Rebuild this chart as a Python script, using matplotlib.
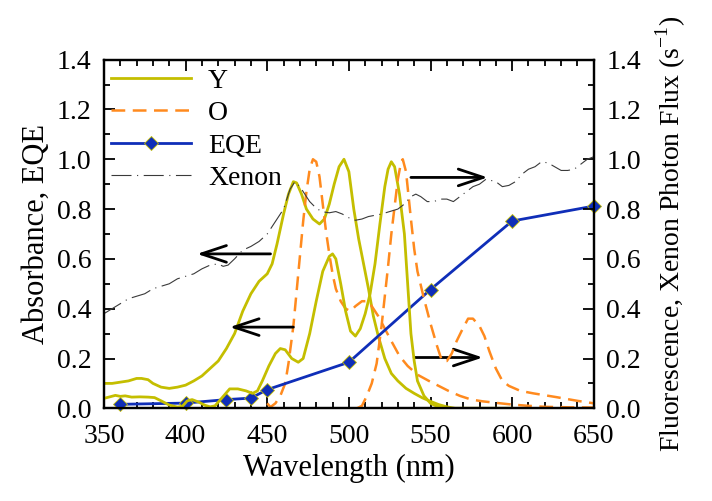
import matplotlib
matplotlib.use("Agg")
import matplotlib.pyplot as plt
from matplotlib.lines import Line2D
from matplotlib.ticker import MultipleLocator

plt.rcParams['font.family'] = ['Liberation Serif', 'DejaVu Serif']
plt.rcParams['mathtext.fontset'] = 'custom'
plt.rcParams['mathtext.rm'] = 'Liberation Serif'

# Y absorbance (left axis)
y_abs_wl = [350, 355, 360, 365, 370, 373, 377, 380, 385, 390, 395, 400, 405, 410, 415, 420,
            425, 430, 435, 440, 445, 450, 453, 456, 460, 463, 466, 468, 471, 474, 478, 482,
            485, 488, 491, 494, 497, 500, 503, 506, 509, 512, 515, 518, 522, 526, 530, 535,
            540, 545, 550, 555, 560, 565, 600]
y_abs = [0.10, 0.10, 0.105, 0.11, 0.12, 0.12, 0.115, 0.10, 0.085, 0.08, 0.085, 0.093, 0.11,
         0.13, 0.16, 0.19, 0.24, 0.30, 0.39, 0.46, 0.51, 0.54, 0.58, 0.66, 0.78, 0.86, 0.91,
         0.905, 0.86, 0.80, 0.76, 0.74, 0.76, 0.82, 0.90, 0.97, 1.00, 0.95, 0.80, 0.68, 0.58,
         0.48, 0.37, 0.29, 0.20, 0.14, 0.11, 0.08, 0.06, 0.042, 0.028, 0.015, 0.006, 0.0, 0.0]

# Y fluorescence (right axis)
y_fl_wl = [350, 353, 357, 360, 363, 367, 372, 377, 381, 385, 390, 395, 398, 401, 404, 408,
           412, 415, 418, 422, 427, 432, 437, 441, 444, 447, 451, 455, 458, 461, 465, 469,
           472, 476, 480, 484, 488, 490, 492, 495, 498, 501, 504, 507, 510, 513, 516, 519,
           522, 524, 526, 528, 531, 534, 536, 538, 540, 542, 546, 550, 555, 560, 600]
y_fl = [0.04, 0.045, 0.052, 0.048, 0.05, 0.045, 0.046, 0.045, 0.043, 0.03, 0.013, 0.005,
        0.008, 0.03, 0.035, 0.025, 0.012, 0.006, 0.01, 0.04, 0.078, 0.078, 0.07, 0.06, 0.07,
        0.11, 0.17, 0.22, 0.24, 0.235, 0.20, 0.185, 0.20, 0.30, 0.43, 0.55, 0.61, 0.62, 0.60,
        0.50, 0.39, 0.31, 0.29, 0.32, 0.38, 0.46, 0.58, 0.74, 0.89, 0.96, 0.99, 0.97, 0.86,
        0.70, 0.50, 0.30, 0.19, 0.11, 0.05, 0.02, 0.005, 0.0, 0.0]

# O absorbance (left axis)
o_abs_wl = [450, 452, 455, 458, 461, 463, 466, 468, 470, 472, 474, 476, 478, 480, 482, 484,
            486, 488, 490, 492, 495, 498, 501, 504, 508, 512, 515, 518, 522, 526, 531, 536,
            542, 549, 555, 561, 568, 575, 582, 590, 600, 610, 620, 635, 650]
o_abs = [0.02, 0.005, 0.02, 0.05, 0.10, 0.18, 0.33, 0.47, 0.61, 0.75, 0.87, 0.96, 1.00, 0.99,
         0.93, 0.82, 0.71, 0.62, 0.54, 0.48, 0.43, 0.40, 0.39, 0.41, 0.43, 0.43, 0.40, 0.37,
         0.32, 0.27, 0.21, 0.17, 0.135, 0.11, 0.09, 0.07, 0.05, 0.035, 0.028, 0.022, 0.015,
         0.01, 0.006, 0.004, 0.003]

# O fluorescence (right axis)
o_fl_wl = [505, 508, 511, 514, 517, 520, 522, 524, 526, 528, 530, 532, 533, 535, 538, 540,
           542, 546, 550, 554, 557, 560, 563, 566, 569, 573, 576, 580, 583, 586, 590, 594,
           598, 605, 613, 627, 640, 650]
o_fl = [0.0, 0.01, 0.05, 0.10, 0.18, 0.33, 0.45, 0.57, 0.70, 0.81, 0.92, 0.99, 1.00, 0.95,
        0.76, 0.64, 0.55, 0.44, 0.34, 0.25, 0.19, 0.19, 0.22, 0.27, 0.31, 0.36, 0.36, 0.33,
        0.29, 0.23, 0.16, 0.11, 0.09, 0.07, 0.06, 0.045, 0.03, 0.02]

# Xenon photon flux (right axis)
xe_wl = [350, 355, 360, 365, 370, 375, 380, 385, 390, 395, 400, 405, 410, 415, 420, 423, 426,
         430, 435, 440, 445, 450, 455, 460, 464, 467, 470, 473, 476, 479, 483, 488, 492, 496,
         500, 504, 508, 512, 516, 520, 525, 530, 534, 538, 541, 544, 548, 552, 556, 560, 564,
         568, 572, 576, 580, 584, 587, 590, 594, 598, 602, 606, 610, 614, 618, 622, 626, 630,
         634, 638, 642, 646, 650]
xe = [0.38, 0.40, 0.42, 0.44, 0.45, 0.46, 0.48, 0.49, 0.50, 0.52, 0.53, 0.54, 0.56, 0.575,
      0.58, 0.57, 0.575, 0.60, 0.635, 0.65, 0.67, 0.70, 0.75, 0.80, 0.88, 0.91, 0.89, 0.86,
      0.83, 0.81, 0.79, 0.785, 0.79, 0.78, 0.765, 0.755, 0.76, 0.77, 0.775, 0.78, 0.79, 0.80,
      0.82, 0.85, 0.86, 0.85, 0.83, 0.83, 0.84, 0.84, 0.83, 0.85, 0.87, 0.89, 0.90, 0.92,
      0.915, 0.91, 0.89, 0.895, 0.91, 0.94, 0.96, 0.97, 0.99, 0.985, 0.97, 0.955, 0.955, 0.96,
      0.98, 1.00, 1.01]

# EQE (left axis)
eqe_wl = [360, 400, 425, 440, 450, 500, 550, 600, 650]
eqe = [0.016, 0.021, 0.035, 0.041, 0.075, 0.185, 0.477, 0.752, 0.812]

yellow = '#C4BE00'
orange = '#FF8A1E'
blue = '#0F2EB8'
grey = '#3A3A3A'

fig = plt.figure(figsize=(7.12, 5.01), dpi=100)
ax = fig.add_axes([0.146, 0.185, 0.688, 0.696])
ax2 = ax.twinx()

ax.plot(y_abs_wl, y_abs, color=yellow, lw=2)
ax.plot(o_abs_wl, o_abs, color=orange, lw=1.8, linestyle=(0, (5.5, 3)))
ax.plot(eqe_wl, eqe, color=blue, lw=2, marker='D', ms=7, mfc=blue,
        mec=yellow, mew=0.6, clip_on=False, zorder=5)

ax2.plot(y_fl_wl, y_fl, color=yellow, lw=2)
ax2.plot(o_fl_wl, o_fl, color=orange, lw=1.8, linestyle=(0, (5.5, 3)))
ax2.plot(xe_wl, xe, color=grey, lw=0.8, linestyle=(0, (18, 5, 1, 5)))

for a in (ax, ax2):
    a.set_xlim(350, 650)
    a.set_ylim(0, 1.4)
    a.yaxis.set_major_locator(MultipleLocator(0.2))
    a.yaxis.set_minor_locator(MultipleLocator(0.1))
    a.tick_params(which='both', direction='in', labelsize=20, width=1.3)
    a.tick_params(which='major', length=8)
    a.tick_params(which='minor', length=4)
    a.tick_params(axis='y', pad=9)
    for s in a.spines.values():
        s.set_linewidth(1.6)

ax.xaxis.set_major_locator(MultipleLocator(50))
ax.xaxis.set_minor_locator(MultipleLocator(10))
ax.tick_params(which='both', top=True, right=False)
ax.tick_params(axis='x', pad=11)
ax.yaxis.set_major_formatter(plt.FormatStrFormatter('%.1f'))
ax2.yaxis.set_major_formatter(plt.FormatStrFormatter('%.1f'))

ax.set_xlabel('Wavelength (nm)', fontsize=22, labelpad=4)
ax.set_ylabel('Absorbance, EQE', fontsize=22, labelpad=4)
ax2.set_ylabel('Fluorescence, Xenon Photon Flux (s$^{-1}$)', fontsize=20, labelpad=9)

# arrows pointing to the axis each curve belongs to
arrow_kw = dict(arrowstyle='->, head_length=0.9, head_width=0.3', color='black', lw=2,
                mutation_scale=20, shrinkA=0, shrinkB=0)
ax.annotate('', xy=(407, 0.62), xytext=(452, 0.62), arrowprops=arrow_kw)
ax.annotate('', xy=(427, 0.326), xytext=(466, 0.326), arrowprops=arrow_kw)
ax.annotate('', xy=(585, 0.927), xytext=(538, 0.927), arrowprops=arrow_kw)
ax.annotate('', xy=(582, 0.204), xytext=(540, 0.204), arrowprops=arrow_kw)

handles = [
    Line2D([], [], color=yellow, lw=2),
    Line2D([], [], color=orange, lw=1.8, linestyle=(0, (5.5, 3))),
    Line2D([], [], color=blue, lw=2, marker='D', ms=7, mfc=blue, mec=yellow, mew=0.6),
    Line2D([], [], color=grey, lw=0.8, linestyle=(0, (18, 5, 1, 5))),
]
ax2.legend(handles, ['Y', 'O', 'EQE', 'Xenon'], loc='upper left',
           bbox_to_anchor=(0.0, 0.995), frameon=False, fontsize=20, handlelength=2.9,
           handletextpad=0.6, labelspacing=0.25, borderpad=0.15, borderaxespad=0.1)

fig.savefig('out.png', dpi=100)
